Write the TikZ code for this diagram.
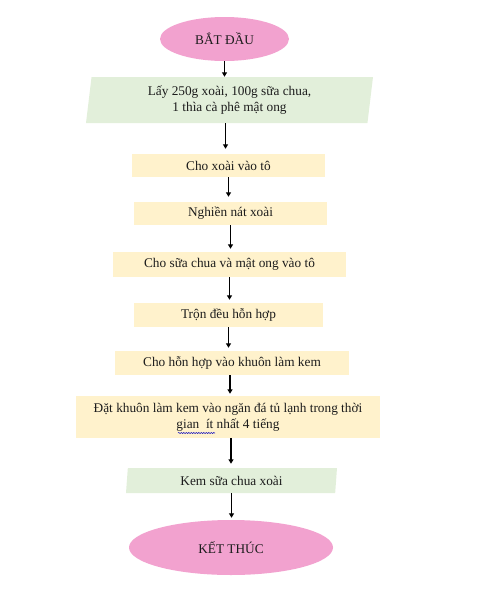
\documentclass[tikz,border=0pt]{standalone}
\usepackage{fontspec}
\setmainfont{Liberation Serif}
\usetikzlibrary{shapes.geometric,arrows.meta,decorations.pathmorphing}
\definecolor{hong}{HTML}{F2A2CF}
\definecolor{xanh}{HTML}{E2EFDA}
\definecolor{vang}{HTML}{FFF2CC}
\definecolor{chu}{HTML}{1C1C1C}
\begin{document}
\begin{tikzpicture}[x=1pt,y=-1pt,
  every node/.style={font=\fontsize{13.3}{16}\selectfont,text=chu,align=center},
  batdau/.style={ellipse,fill=hong,inner sep=0pt},
  vao/.style={trapezium,trapezium stretches body,trapezium left angle=79,trapezium right angle=101,fill=xanh,inner sep=0pt},
  buoc/.style={rectangle,fill=vang,inner sep=0pt},
  muiten/.style={line width=1.5pt,-{Triangle[length=4.5pt,width=5pt]}}]
\useasboundingbox (0,0) rectangle (493,603);
\node[batdau,minimum width=129,minimum height=44] (BD) at (224.5,39) {BẮT ĐẦU};
\node[vao,minimum width=287,minimum height=46] (DL) at (229.5,100) {Lấy 250g xoài, 100g sữa chua,\\1 thìa cà phê mật ong};
\node[buoc,minimum width=193,minimum height=23] (B1) at (228.5,165.5) {Cho xoài vào tô};
\node[buoc,minimum width=193,minimum height=23] (B2) at (230.5,213.5) {Nghiền nát xoài};
\node[buoc,minimum width=233,minimum height=25] (B3) at (229.5,264.5) {Cho sữa chua và mật ong vào tô};
\node[buoc,minimum width=189,minimum height=24] (B4) at (228.5,315) {Trộn đều hỗn hợp};
\node[buoc,minimum width=234,minimum height=24] (B5) at (232,363) {Cho hỗn hợp vào khuôn làm kem};
\node[buoc,minimum width=304,minimum height=42] (B6) at (228,417) {Đặt khuôn làm kem vào ngăn đá tủ lạnh trong thời\\gian\ \ ít nhất 4 tiếng};
\node[vao,minimum width=211,minimum height=25] (KQ) at (231.5,480.5) {Kem sữa chua xoài};
\node[batdau,minimum width=204,minimum height=55] (KT) at (231,547.5) {KẾT THÚC};
\draw[blue!75!black,line width=0.5pt,decorate,decoration={snake,amplitude=0.6pt,segment length=2.5pt}] (B6)++(-50,16)--++(37,0); %gach loi

\draw[muiten] (BD.south) -- (BD.south|-DL.north);
\draw[muiten,shorten >=5pt] ([xshift=-4]DL.south) -- ([xshift=-4]DL.south|-B1.north);
\draw[muiten,shorten >=5pt] (B1.south) -- (B1.south|-B2.north);
\draw[muiten,shorten >=3pt] (B2.south) -- (B2.south|-B3.north);
\draw[muiten,shorten >=3pt] (B3.south) -- (B3.south|-B4.north);
\draw[muiten,shorten >=3pt] (B4.south) -- (B4.south|-B5.north);
\draw[muiten,shorten >=2pt] ([xshift=-2]B5.south) -- ([xshift=-2]B5.south|-B6.north);
\draw[muiten,shorten >=4pt] ([xshift=3]B6.south) -- ([xshift=3]B6.south|-KQ.north); %den ket qua
\draw[muiten,shorten >=2pt] (KQ.south) -- (KQ.south|-KT.north);
\end{tikzpicture}
\end{document}
